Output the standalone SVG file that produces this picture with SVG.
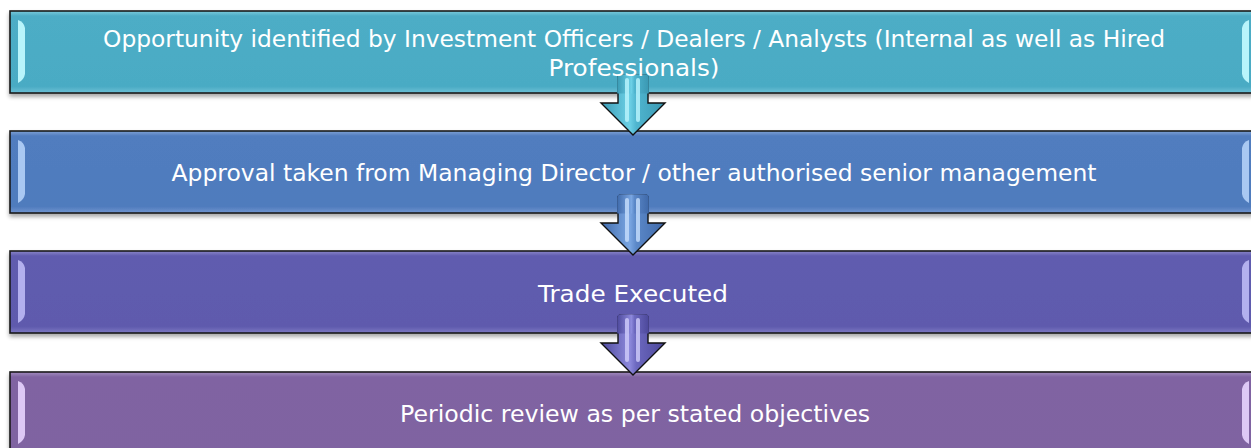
<svg xmlns="http://www.w3.org/2000/svg" width="1251" height="448" viewBox="0 0 1251 448">
<defs>
<style>
.box{stroke:#1a1a1a;stroke-width:1.6}
.lbl{font-family:"DejaVu Sans",Verdana,sans-serif;font-size:23px;fill:#ffffff;text-anchor:middle}
.arr{stroke:#111;stroke-width:1.4;stroke-linejoin:miter}
</style>
<filter id="sh" x="-5%" y="-20%" width="110%" height="150%">
<feGaussianBlur in="SourceAlpha" stdDeviation="2"/>
<feOffset dx="0" dy="3" result="b"/>
<feComponentTransfer><feFuncA type="linear" slope="0.35"/></feComponentTransfer>
<feMerge><feMergeNode/><feMergeNode in="SourceGraphic"/></feMerge>
</filter>
<linearGradient id="g1" x1="0" y1="0" x2="0" y2="1">
<stop offset="0" stop-color="#7ccbdc"/><stop offset="0.06" stop-color="#4dadc6"/><stop offset="0.92" stop-color="#4aabc4"/><stop offset="1" stop-color="#6cc0d6"/>
</linearGradient>
<linearGradient id="g2" x1="0" y1="0" x2="0" y2="1">
<stop offset="0" stop-color="#7fa2d6"/><stop offset="0.06" stop-color="#517dbf"/><stop offset="0.92" stop-color="#4f7bbd"/><stop offset="1" stop-color="#7195cf"/>
</linearGradient>
<linearGradient id="g3" x1="0" y1="0" x2="0" y2="1">
<stop offset="0" stop-color="#8b87c9"/><stop offset="0.06" stop-color="#605caf"/><stop offset="0.92" stop-color="#5e5aad"/><stop offset="1" stop-color="#7d79c2"/>
</linearGradient>
<linearGradient id="g4" x1="0" y1="0" x2="0" y2="1">
<stop offset="0" stop-color="#a38cbf"/><stop offset="0.06" stop-color="#8064a2"/><stop offset="1" stop-color="#7f63a1"/>
</linearGradient>
<linearGradient id="a1" x1="0" y1="0" x2="1" y2="0">
<stop offset="0" stop-color="#3a9ab4"/><stop offset="0.45" stop-color="#6cd0e6"/><stop offset="0.55" stop-color="#4fb5cf"/><stop offset="1" stop-color="#3a98b2"/>
</linearGradient>
<linearGradient id="a2" x1="0" y1="0" x2="1" y2="0">
<stop offset="0" stop-color="#3f6aab"/><stop offset="0.45" stop-color="#7aa6e2"/><stop offset="0.55" stop-color="#5b88c8"/><stop offset="1" stop-color="#3f69a9"/>
</linearGradient>
<linearGradient id="a3" x1="0" y1="0" x2="1" y2="0">
<stop offset="0" stop-color="#4d499c"/><stop offset="0.45" stop-color="#8d89dc"/><stop offset="0.55" stop-color="#6c68bf"/><stop offset="1" stop-color="#4c489a"/>
</linearGradient>
<path id="bevL" d="M0,0 Q6,2 7,8 L7,54 Q6,60 0,63 Z"/>
<path id="bevR" d="M0,0 Q-6,2 -7,8 L-7,54 Q-6,60 0,63 Z"/>
<path id="arrow" d="M-15,0 Q-15,-3 -12,-3 L12,-3 Q15,-3 15,0 L15,25 L32,25 L0,57 L-32,25 L-15,25 Z"/>
<path id="shaftTop" d="M-15.8,15.5 L-15.8,0 Q-15.8,-3.8 -12,-3.8 L12,-3.8 Q15.8,-3.8 15.8,0 L15.8,15.5 Z"/>
</defs>

<g id="node1" filter="url(#sh)">
<rect class="box" x="10" y="11" width="1248" height="82" fill="url(#g1)"/>
<use href="#bevL" x="18" y="20" fill="#b8f4fb"/>
<use href="#bevR" x="1249" y="20" fill="#b8f4fb"/>
</g>
<g id="node2" filter="url(#sh)">
<rect class="box" x="10" y="131" width="1248" height="82" fill="url(#g2)"/>
<use href="#bevL" x="18" y="140" fill="#a9c8f2"/>
<use href="#bevR" x="1249" y="140" fill="#a9c8f2"/>
</g>
<g id="node3" filter="url(#sh)">
<rect class="box" x="10" y="251" width="1248" height="82" fill="url(#g3)"/>
<use href="#bevL" x="18" y="260" fill="#b3b0ee"/>
<use href="#bevR" x="1249" y="260" fill="#b3b0ee"/>
</g>
<g id="node4" filter="url(#sh)">
<rect class="box" x="10" y="372" width="1248" height="82" fill="url(#g4)"/>
<use href="#bevL" x="18" y="381" fill="#ddc8f5"/>
<use href="#bevR" x="1249" y="381" fill="#ddc8f5"/>
</g>

<g id="connectors">
<g transform="translate(633,78)">
<use href="#arrow" class="arr" fill="url(#a1)"/>
<use href="#shaftTop" fill="url(#a1)"/>
<rect x="-8" y="0" width="4" height="44" rx="2" fill="#b6f2fb" opacity="0.85"/>
<rect x="3" y="0" width="4" height="44" rx="2" fill="#b6f2fb" opacity="0.85"/>
</g>
<g transform="translate(633,198)">
<use href="#arrow" class="arr" fill="url(#a2)"/>
<use href="#shaftTop" fill="url(#a2)"/>
<rect x="-8" y="0" width="4" height="44" rx="2" fill="#c2dbfa" opacity="0.85"/>
<rect x="3" y="0" width="4" height="44" rx="2" fill="#c2dbfa" opacity="0.85"/>
</g>
<g transform="translate(633,318)">
<use href="#arrow" class="arr" fill="url(#a3)"/>
<use href="#shaftTop" fill="url(#a3)"/>
<rect x="-8" y="0" width="4" height="44" rx="2" fill="#cbc8f8" opacity="0.85"/>
<rect x="3" y="0" width="4" height="44" rx="2" fill="#cbc8f8" opacity="0.85"/>
</g>
</g>

<g id="labels">
<text class="lbl" x="634" y="47" textLength="1062" lengthAdjust="spacingAndGlyphs">Opportunity identified by Investment Officers / Dealers / Analysts (Internal as well as Hired</text>
<text class="lbl" x="634" y="76" textLength="171" lengthAdjust="spacingAndGlyphs">Professionals)</text>
<text class="lbl" x="634" y="181" textLength="925" lengthAdjust="spacingAndGlyphs">Approval taken from Managing Director / other authorised senior management</text>
<text class="lbl" x="633" y="302" textLength="190" lengthAdjust="spacingAndGlyphs">Trade Executed</text>
<text class="lbl" x="635" y="422" textLength="470" lengthAdjust="spacingAndGlyphs">Periodic review as per stated objectives</text>
</g>
</svg>
